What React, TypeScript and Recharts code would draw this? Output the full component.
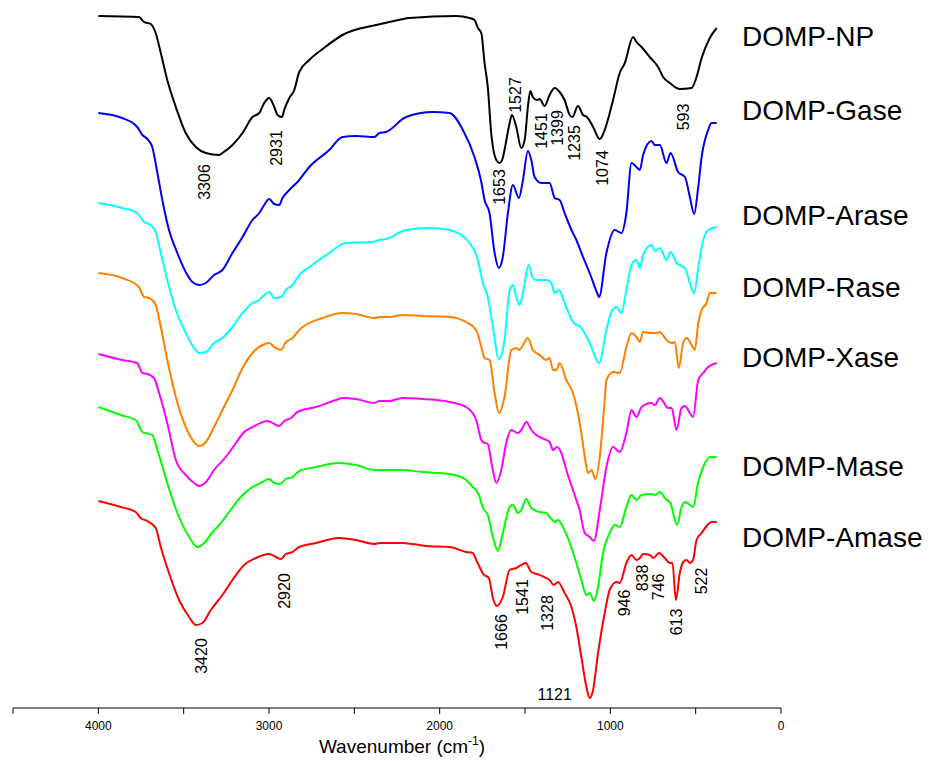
import { Label, Line, LineChart, ReferenceDot, XAxis, YAxis } from 'recharts';

// [wavenumber (cm-1), transmittance (a.u., offset)]
const npSpectrum: [number, number][] = [
  [4000, 692], [3762, 691], [3732, 686], [3693, 684], [3664, 675], [3634, 655], [3596, 628], [3546, 601],
  [3488, 575], [3429, 561], [3370, 555], [3292, 553], [3273, 555], [3214, 563], [3155, 575], [3097, 591],
  [3057, 595], [3028, 605], [2999, 610], [2969, 601], [2950, 593], [2924, 591], [2911, 598], [2881, 610],
  [2852, 618], [2823, 636], [2764, 648], [2686, 659], [2569, 673], [2373, 683], [2295, 686], [2177, 690],
  [1903, 692], [1825, 690], [1796, 688], [1776, 680], [1756, 675], [1737, 645], [1718, 621], [1698, 575],
  [1668, 548], [1649, 545], [1630, 550], [1620, 558], [1590, 585], [1577, 593], [1551, 581], [1522, 560],
  [1502, 568], [1483, 601], [1469, 617], [1454, 611], [1430, 608], [1414, 609], [1385, 602], [1356, 613],
  [1326, 620], [1297, 616], [1268, 608], [1238, 593], [1222, 591], [1190, 602], [1160, 593], [1137, 591],
  [1101, 581], [1062, 569], [1033, 578], [984, 608], [945, 635], [915, 645], [867, 671], [847, 666],
  [817, 661], [769, 651], [720, 641], [691, 631], [651, 625], [593, 619], [524, 620], [495, 631],
  [465, 650], [417, 670], [377, 680],
];

const gaseSpectrum: [number, number][] = [
  [4000, 595], [3860, 590], [3772, 581], [3742, 573], [3713, 569], [3684, 561], [3654, 535], [3625, 508],
  [3586, 478], [3537, 455], [3488, 436], [3449, 426], [3410, 423], [3370, 425], [3322, 433], [3273, 438],
  [3214, 455], [3155, 471], [3097, 488], [3057, 495], [3028, 503], [2999, 509], [2969, 504], [2940, 503],
  [2921, 510], [2881, 518], [2833, 526], [2764, 541], [2647, 558], [2569, 571], [2490, 572], [2383, 571],
  [2353, 575], [2314, 576], [2197, 591], [2040, 596], [1942, 595], [1864, 578], [1796, 551], [1756, 526],
  [1737, 508], [1708, 495], [1678, 455], [1653, 440], [1630, 451], [1600, 495], [1571, 523], [1536, 510],
  [1512, 528], [1483, 557], [1463, 548], [1444, 531], [1404, 525], [1356, 525], [1326, 510], [1297, 508],
  [1268, 495], [1228, 478], [1199, 468], [1160, 451], [1121, 435], [1072, 413], [1066, 411], [1023, 455],
  [974, 478], [935, 475], [906, 495], [876, 545], [847, 541], [827, 538], [808, 553], [759, 567],
  [739, 563], [710, 563], [671, 545], [647, 555], [603, 536], [563, 531], [534, 511], [509, 494],
  [485, 521], [465, 551], [427, 578], [407, 585], [377, 585],
];

const araseSpectrum: [number, number][] = [
  [4000, 505], [3860, 500], [3772, 495], [3732, 486], [3693, 483], [3664, 476], [3634, 455], [3596, 428],
  [3546, 398], [3488, 375], [3439, 360], [3410, 355], [3370, 356], [3322, 365], [3273, 370], [3214, 381],
  [3155, 395], [3097, 405], [3057, 408], [3028, 413], [2999, 416], [2969, 410], [2930, 411], [2901, 418],
  [2862, 423], [2823, 433], [2764, 441], [2647, 455], [2549, 465], [2393, 466], [2353, 468], [2314, 469],
  [2197, 478], [2060, 480], [1942, 478], [1825, 465], [1776, 448], [1747, 425], [1718, 411], [1688, 381],
  [1653, 349], [1620, 368], [1590, 418], [1571, 423], [1551, 411], [1532, 403], [1512, 415], [1479, 443],
  [1457, 431], [1434, 428], [1375, 428], [1346, 425], [1326, 415], [1301, 418], [1268, 405], [1219, 386],
  [1170, 380], [1121, 365], [1066, 345], [1023, 378], [994, 396], [964, 401], [935, 395], [906, 418],
  [876, 443], [847, 448], [827, 440], [808, 453], [759, 463], [739, 457], [710, 460], [671, 448],
  [647, 456], [612, 445], [563, 440], [534, 425], [509, 415], [485, 440], [465, 461], [427, 478],
  [377, 481],
];

const raseSpectrum: [number, number][] = [
  [4000, 435], [3860, 430], [3762, 421], [3732, 411], [3703, 410], [3664, 403], [3634, 381], [3596, 348],
  [3546, 311], [3488, 281], [3439, 266], [3410, 262], [3370, 266], [3322, 281], [3273, 298], [3214, 318],
  [3155, 340], [3097, 355], [3038, 363], [2999, 365], [2969, 361], [2930, 358], [2901, 366], [2862, 370],
  [2823, 378], [2686, 390], [2569, 395], [2490, 394], [2383, 390], [2353, 391], [2295, 391], [2217, 393],
  [2099, 392], [1942, 391], [1845, 386], [1786, 378], [1756, 361], [1737, 350], [1708, 348], [1678, 315],
  [1653, 295], [1620, 311], [1580, 358], [1551, 360], [1532, 358], [1512, 363], [1483, 370], [1454, 358],
  [1414, 353], [1375, 348], [1356, 350], [1336, 338], [1316, 338], [1297, 345], [1258, 328], [1219, 315],
  [1190, 295], [1170, 275], [1140, 241], [1131, 235], [1111, 238], [1087, 229], [1062, 251], [1033, 308],
  [1023, 328], [984, 336], [945, 335], [906, 361], [876, 375], [847, 371], [827, 366], [808, 376],
  [759, 375], [729, 375], [710, 376], [671, 368], [641, 365], [622, 366], [599, 340], [573, 365],
  [553, 370], [524, 363], [505, 358], [485, 385], [465, 398], [436, 405], [417, 415], [377, 415],
];

const xaseSpectrum: [number, number][] = [
  [4000, 354], [3860, 348], [3772, 345], [3742, 335], [3713, 334], [3674, 330], [3644, 315], [3596, 285],
  [3546, 248], [3488, 233], [3439, 225], [3410, 222], [3370, 226], [3322, 238], [3253, 251], [3194, 265],
  [3146, 276], [3097, 281], [3009, 287], [2969, 284], [2940, 282], [2911, 287], [2871, 290], [2833, 296],
  [2725, 301], [2607, 308], [2569, 310], [2490, 309], [2383, 305], [2353, 307], [2295, 307], [2217, 310],
  [2099, 309], [1942, 306], [1845, 301], [1786, 288], [1756, 268], [1747, 266], [1718, 264], [1692, 241],
  [1668, 225], [1639, 238], [1610, 265], [1580, 278], [1542, 275], [1522, 278], [1492, 286], [1463, 278],
  [1434, 273], [1375, 268], [1356, 266], [1336, 258], [1313, 261], [1287, 255], [1258, 238], [1209, 213],
  [1180, 198], [1150, 175], [1121, 171], [1096, 167], [1062, 198], [1023, 241], [984, 261], [945, 256],
  [906, 275], [876, 298], [847, 291], [817, 301], [759, 305], [739, 303], [710, 310], [661, 300],
  [641, 300], [612, 278], [583, 300], [563, 302], [534, 295], [515, 291], [485, 328], [456, 335],
  [427, 341], [377, 345],
];

const maseSpectrum: [number, number][] = [
  [4000, 301], [3869, 293], [3781, 288], [3742, 276], [3684, 273], [3654, 258], [3596, 225], [3537, 195],
  [3468, 171], [3420, 161], [3380, 165], [3331, 176], [3292, 183], [3234, 196], [3155, 213], [3097, 221],
  [3038, 226], [3003, 229], [2969, 225], [2936, 224], [2901, 229], [2862, 231], [2823, 237], [2725, 241],
  [2598, 245], [2490, 243], [2383, 238], [2353, 238], [2217, 238], [2099, 236], [1942, 234], [1845, 228],
  [1806, 221], [1786, 218], [1766, 211], [1747, 200], [1718, 193], [1688, 171], [1659, 157], [1630, 175],
  [1590, 201], [1571, 203], [1542, 195], [1522, 198], [1492, 209], [1463, 200], [1414, 196], [1375, 195],
  [1356, 191], [1326, 186], [1307, 188], [1278, 181], [1238, 165], [1199, 145], [1170, 128], [1140, 113],
  [1121, 115], [1096, 107], [1072, 121], [1043, 155], [1004, 175], [974, 183], [945, 181], [906, 201],
  [876, 213], [847, 208], [817, 213], [759, 214], [739, 213], [710, 216], [671, 208], [651, 206],
  [609, 183], [583, 201], [563, 206], [534, 203], [515, 201], [485, 226], [456, 241], [417, 251],
  [377, 251],
];

const amaseSpectrum: [number, number][] = [
  [4000, 207], [3869, 201], [3781, 196], [3752, 190], [3713, 187], [3664, 180], [3634, 161], [3586, 135],
  [3527, 108], [3468, 91], [3429, 83], [3390, 85], [3341, 98], [3273, 113], [3214, 128], [3146, 143],
  [3077, 150], [2999, 154], [2960, 151], [2930, 149], [2901, 154], [2862, 156], [2823, 161], [2725, 165],
  [2588, 170], [2490, 168], [2383, 164], [2353, 165], [2217, 165], [2079, 162], [1942, 161], [1845, 156],
  [1806, 155], [1786, 148], [1766, 141], [1745, 134], [1712, 130], [1688, 110], [1665, 102], [1630, 111],
  [1590, 138], [1551, 140], [1522, 143], [1496, 145], [1463, 136], [1414, 133], [1375, 130], [1356, 128],
  [1332, 123], [1307, 126], [1268, 115], [1228, 101], [1199, 81], [1170, 51], [1140, 21], [1121, 10],
  [1101, 18], [1072, 55], [1033, 95], [1004, 118], [964, 126], [945, 125], [906, 145], [876, 153],
  [847, 148], [827, 150], [808, 154], [769, 153], [749, 150], [714, 155], [681, 150], [651, 145],
  [636, 145], [616, 108], [593, 135], [573, 146], [553, 148], [534, 145], [515, 148], [495, 168],
  [465, 175], [436, 182], [407, 186], [377, 186],
];

const sampleNames = ['DOMP-NP', 'DOMP-Gase', 'DOMP-Arase', 'DOMP-Rase', 'DOMP-Xase', 'DOMP-Mase', 'DOMP-Amase'];
const spectra = [npSpectrum, gaseSpectrum, araseSpectrum, raseSpectrum, xaseSpectrum, maseSpectrum, amaseSpectrum];
const COLORS = ['#000000', '#0000F0', '#00FFFF', '#FF8000', '#FF00FF', '#00FF00', '#FF0000'];
const NAME_BASELINES = [46, 120, 225, 297, 367, 476, 547];

// peak labels: [wavenumber, level, text, horizontal?]
const peakLabels: [number, number, string, boolean][] = [
  [3380, 526, '3306', false], [2955, 560, '2931', false], [1649, 521, '1653', false],
  [1558, 613, '1527', false], [1404, 577, '1451', false], [1307, 580, '1399', false],
  [1209, 565, '1235', false], [1045, 540, '1074', false], [573, 591, '593', false],
  [3398, 52, '3420', false], [2911, 117, '2920', false], [1637, 76, '1666', false],
  [1512, 111, '1541', false], [1369, 95, '1328', false], [915, 105, '946', false],
  [810, 130, '838', false], [720, 121, '746', false], [610, 86, '613', false],
  [465, 127, '522', false], [1326, 14, '1121', true],
];

const xTicks = [0, 500, 1000, 1500, 2000, 2500, 3000, 3500, 4000, 4500];

const FONT = '"Liberation Sans", Arial, Helvetica, sans-serif';

const toPoints = (s: [number, number][]) => s.map(([wn, v]) => ({ wn, v }));

const peakText = (text: string, horizontal: boolean) => (props: any) => {
  const vb = props.viewBox || {};
  const cx = (vb.x ?? 0) + (vb.width ?? 0) / 2;
  const cy = (vb.y ?? 0) + (vb.height ?? 0) / 2;
  return (
    <text
      x={cx}
      y={cy}
      textAnchor="middle"
      dominantBaseline="central"
      fontSize={16}
      fontFamily={FONT}
      fill="#000"
      transform={horizontal ? undefined : `rotate(-90, ${cx}, ${cy})`}
    >
      {text}
    </text>
  );
};

const axisTitle = (props: any) => {
  const vb = props.viewBox || {};
  const cx = vb.x + vb.width / 2 + 5;
  return (
    <text x={cx} y={753} textAnchor="middle" fontSize={19} fontFamily={FONT} fill="#000">
      Wavenumber (cm
      <tspan fontSize={12} dy={-8}>-1</tspan>
      <tspan dy={8}>)</tspan>
    </text>
  );
};

export default function App() {
  return (
    <div style={{ position: 'absolute', left: 0, top: 0, width: 932, height: 761, background: '#fff' }}>
      <LineChart width={932} height={761} margin={{ top: 0, right: 151, bottom: 0, left: 13 }}>
        <XAxis
          dataKey="wn"
          type="number"
          domain={[0, 4500]}
          reversed
          allowDataOverflow
          ticks={xTicks}
          interval={0}
          height={53}
          tickSize={6}
          tickMargin={7}
          stroke="#000"
          tick={{ fontSize: 12, fill: '#000', fontFamily: FONT }}
          tickFormatter={(v: number) => (v % 1000 === 0 && v < 4500 ? String(v) : '')}
          label={<Label content={axisTitle} />}
        />
        <YAxis hide type="number" domain={[0, 708]} />
        {spectra.map((s, i) => (
          <Line
            key={sampleNames[i]}
            data={toPoints(s)}
            dataKey="v"
            name={sampleNames[i]}
            type="monotone"
            stroke={COLORS[i]}
            strokeWidth={2}
            dot={false}
            activeDot={false}
            isAnimationActive={false}
          />
        ))}
        {peakLabels.map(([wn, v, text, horizontal]) => (
          <ReferenceDot
            key={text}
            x={wn}
            y={v}
            r={0}
            fill="none"
            stroke="none"
            ifOverflow="visible"
            label={peakText(text, horizontal)}
          />
        ))}
      </LineChart>
      <svg width={932} height={761} style={{ position: 'absolute', left: 0, top: 0, pointerEvents: 'none' }}>
        {sampleNames.map((name, i) => (
          <text key={name} x={742} y={NAME_BASELINES[i]} fontSize={28} fontFamily={FONT} fill="#000">
            {name}
          </text>
        ))}
      </svg>
    </div>
  );
}
